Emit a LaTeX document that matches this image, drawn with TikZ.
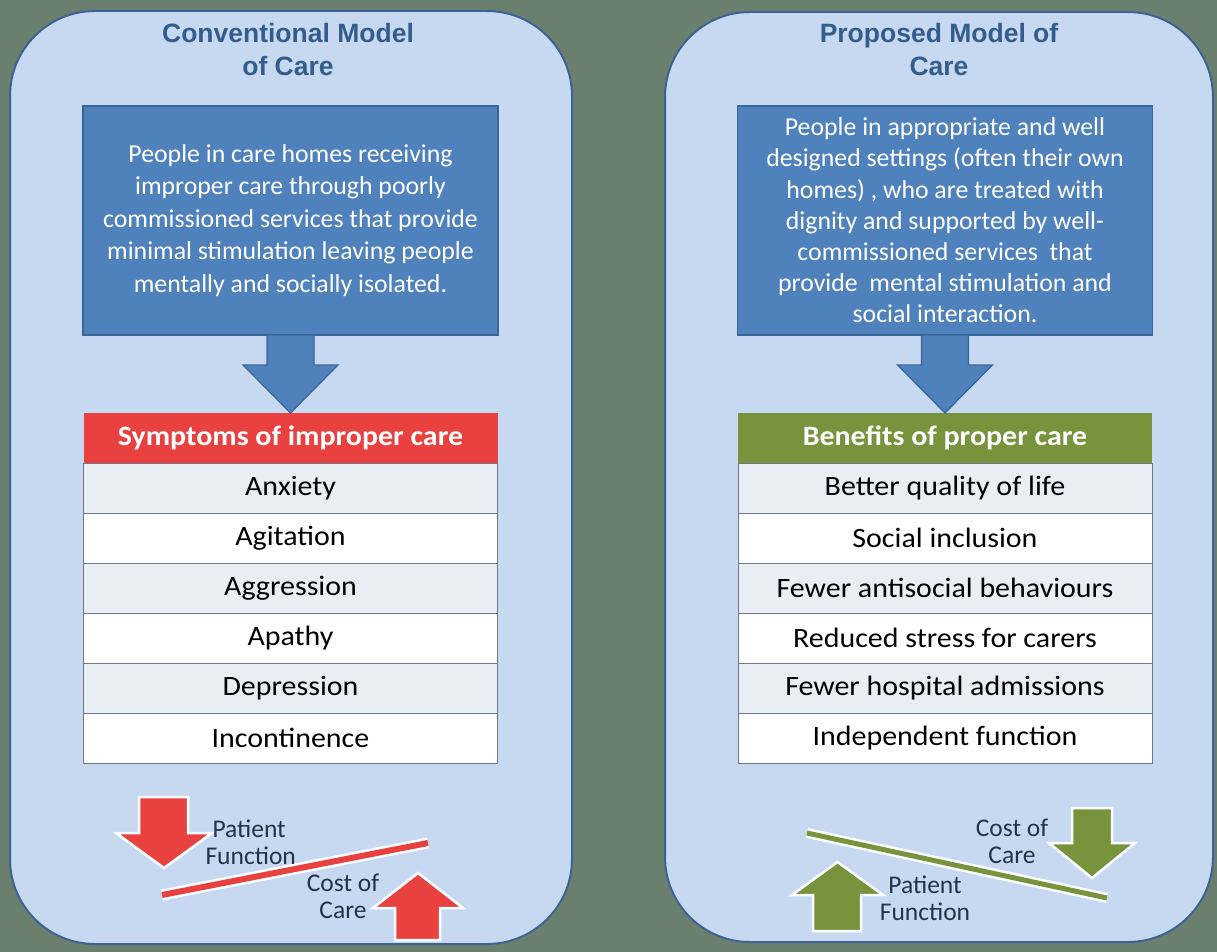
\documentclass[tikz,border=0pt]{standalone}
\usepackage{fontspec}
\setmainfont{Carlito}
\newfontfamily\headfont{Liberation Sans}
\newfontfamily\tabfont{Carlito}[FakeStretch=1.07]
\definecolor{bgc}{HTML}{6B7F6E}
\definecolor{panelfill}{HTML}{C6D9F0}
\definecolor{paneldraw}{HTML}{3D6394}
\definecolor{titletext}{HTML}{345C8C}
\definecolor{boxblue}{HTML}{4F81BD}
\definecolor{boxedge}{HTML}{3A6599}
\definecolor{hdrred}{HTML}{E8413F}
\definecolor{hdrgreen}{HTML}{77933C}
\definecolor{rowalt}{HTML}{E9EDF4}
\definecolor{rowline}{HTML}{6F7A89}
\definecolor{darktext}{HTML}{243447}
\begin{document}
\begin{tikzpicture}[x=1pt,y=-1pt,
  panel/.style={fill=panelfill,draw=paneldraw,line width=2pt,rounded corners=85pt},
  title/.style={text=titletext,align=center,font=\headfont\bfseries\fontsize{26.5}{33}\selectfont},
  bluebox/.style={fill=boxblue,draw=boxedge,line width=1.2pt,text=white,align=center,
    minimum width=415pt,minimum height=229pt,inner sep=0pt,outer sep=0pt,
    font=\fontsize{25.8}{32.5}\selectfont},
  bigarrow/.style={fill=boxblue,draw=boxedge,line width=1.2pt},
  hdr/.style={minimum width=414pt,minimum height=50pt,inner sep=0pt,outer sep=0pt,
    text=white,font=\tabfont\bfseries\fontsize{28}{30}\selectfont},
  rowA/.style={fill=rowalt,draw=rowline,line width=0.7pt,minimum width=414pt,minimum height=50pt,
    inner sep=0pt,outer sep=0pt,text=black,font=\tabfont\fontsize{28}{30}\selectfont},
  rowB/.style={rowA,fill=white},
  lbl/.style={text=darktext,align=center,font=\fontsize{25.5}{27}\selectfont},
  redblock/.style={fill=hdrred,draw=white,line width=2.5pt,line join=miter},
  greenblock/.style={fill=hdrgreen,draw=white,line width=2.5pt,line join=miter}]
\fill[bgc] (0,0) rectangle (1217,952);
\useasboundingbox (0,0) rectangle (1217,952);

% ---------- conventional model ----------
\draw[panel] (10,11) rectangle (572,944);
\node[title] (ltitle) at (288,50) {Conventional Model\\of Care};
\node[bluebox] (lbox) at (290.5,220.5) {People in care homes receiving\\improper care through poorly\\commissioned services that provide\\minimal stimulation leaving people\\mentally and socially isolated.};
\node[hdr,fill=hdrred] (lhead) at (290.5,438) {Symptoms of improper care};
\node[rowA] (lr1) at (290.5,488) {Anxiety};
\node[rowB] (lr2) at (290.5,538) {Agitation};
\node[rowA] (lr3) at (290.5,588) {Aggression};
\node[rowB] (lr4) at (290.5,638) {Apathy};
\node[rowA] (lr5) at (290.5,688) {Depression};
\node[rowB] (lr6) at (290.5,738) {Incontinence};
\draw[bigarrow] ([xshift=-23.5pt]lbox.south) -- ++(0,30) -- ++(-24,0) -- (lhead.north)
  -- ++(47.5,-48) -- ++(-24,0) -- ++(0,-30) -- cycle;

% falling function, rising cost
\draw[white,line width=11pt] (162,895) -- (428,843);
\draw[hdrred,line width=6pt] (162,895) -- (428,843);
\draw[redblock] (139,797) -- (188,797) -- (188,833) -- (212,833) -- (164,868) -- (116,833) -- (139,833) -- cycle;
\draw[redblock] (395,940) -- (395,908) -- (373,908) -- (418,873) -- (463,908) -- (440,908) -- (440,940) -- cycle;
\node[lbl,anchor=west,align=left] (lpf) at (202,842) {\hspace*{7pt}Patient\\Function};
\node[lbl] (lcc) at (343,896) {Cost of\\Care};

% ---------- proposed model ----------
\draw[panel] (665,12) rectangle (1213,942);
\node[title] (rtitle) at (939,50) {Proposed Model of\\Care};
\node[bluebox,font=\fontsize{25.8}{31.2}\selectfont] (rbox) at (945,220.5) {People in appropriate and well\\designed settings (often their own\\homes) , who are treated with\\dignity and supported by well-\\commissioned services\ \ that\\provide\ \ mental stimulation and\\social interaction.};
\node[hdr,fill=hdrgreen] (rhead) at (945,438) {Benefits of proper care};
\node[rowA] (rr1) at (945,488) {Better quality of life};
\node[rowB] (rr2) at (945,538) {Social inclusion};
\node[rowA] (rr3) at (945,588) {Fewer antisocial behaviours};
\node[rowB] (rr4) at (945,638) {Reduced stress for carers};
\node[rowA] (rr5) at (945,688) {Fewer hospital admissions};
\node[rowB] (rr6) at (945,738) {Independent function};
\draw[bigarrow] ([xshift=-23.5pt]rbox.south) -- ++(0,30) -- ++(-24,0) -- (rhead.north)
  -- ++(47.5,-48) -- ++(-24,0) -- ++(0,-30) -- cycle;

% rising function, falling cost
\draw[white,line width=10pt] (807,833) -- (1107,898);
\draw[hdrgreen,line width=5pt] (807,833) -- (1107,898);
\draw[greenblock] (813,931) -- (813,895) -- (792,895) -- (837.5,862) -- (883,895) -- (861,895) -- (861,931) -- cycle;
\draw[greenblock] (1072,808) -- (1112,808) -- (1112,843) -- (1135,843) -- (1092,878) -- (1049,843) -- (1072,843) -- cycle;
\node[lbl] (rcc) at (1012,841) {Cost of\\Care};
\node[lbl] (rpf) at (925,898) {Patient\\Function};
\end{tikzpicture}
\end{document}
